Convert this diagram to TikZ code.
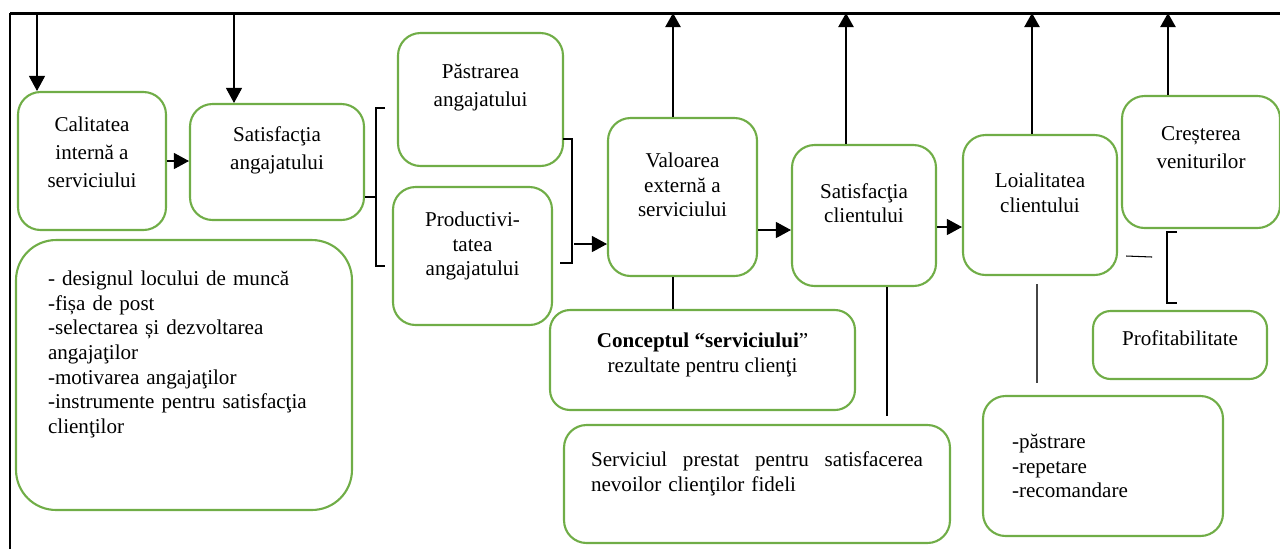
\documentclass[tikz,border=0pt]{standalone}
\usepackage{fontspec}
\setmainfont{Liberation Serif}
\usepackage{tikz}
\usetikzlibrary{arrows.meta, positioning, calc}
\definecolor{boxgreen}{RGB}{112, 173, 71}
\definecolor{linegray}{RGB}{70, 70, 70}

\tikzset{
    box/.style={draw=boxgreen, line width=1.2pt, rounded corners=0.45cm, align=center,
        inner sep=2pt, font=\fontsize{12}{14}\selectfont},
    tall/.style={font=\fontsize{12}{16}\selectfont},
    arr/.style={-{Triangle[length=0.3cm, width=0.32cm]}, line width=0.6pt},
    uparr/.style={-{Triangle[length=0.28cm, width=0.3cm]}, line width=1.3pt},
}

\begin{document}
\begin{tikzpicture}[x=0.02cm, y=-0.02cm]
    \useasboundingbox (0,0) rectangle (1280,549);

    % frame
    \coordinate (tl) at (10,13);
    \coordinate (tr) at (1280,13);
    \coordinate (bl) at (10,549);
    \draw[line width=1.2pt] (bl) -- (tl);
    \draw[line width=1.7pt] (tl) -- (tr);

    % boxes
    \node[box, tall, minimum width=2.96cm, minimum height=2.76cm] (cal) at (92,161)
        {Calitatea\\internă a\\serviciului\\[-6pt]~};
    \node[box, tall, minimum width=3.48cm, minimum height=2.32cm] (satang) at (277,162)
        {Satisfacţia\\angajatului\\~};
    \node[box, tall, minimum width=3.30cm, minimum height=2.66cm] (pastr) at (480.5,99.5)
        {Păstrarea\\angajatului\\~};
    \node[box, minimum width=3.18cm, minimum height=2.76cm] (prod) at (472.5,256)
        {Productivi-\\tatea\\angajatului\\~};
    \node[box, minimum width=2.98cm, minimum height=3.16cm] (valext) at (682.5,197)
        {Valoarea\\externă a\\serviciului\\~};
    \node[box, minimum width=2.88cm, minimum height=2.82cm] (satcl) at (864,215.5)
        {Satisfacţia\\clientului\\~};
    \node[box, minimum width=3.08cm, minimum height=2.80cm] (loial) at (1040,205)
        {Loialitatea\\clientului\\~};
    \node[box, tall, minimum width=3.16cm, minimum height=2.64cm] (cresc) at (1201,162)
        {Creșterea\\veniturilor\\~};

    \node[box, rounded corners=0.8cm, minimum width=6.72cm, minimum height=5.40cm,
        text width=5.44cm, align=left] (lista) at (184,375)
        {- designul locului de muncă\\-fișa de post\\-selectarea și dezvoltarea\\angajaţilor\\-motivarea angajaţilor\\-instrumente pentru satisfacţia\\clienţilor\\[12pt]~};
    \node[box, rounded corners=0.4cm, minimum width=6.10cm, minimum height=2.00cm] (concept) at (702.5,360)
        {\textbf{Conceptul “serviciului}”\\rezultate pentru clienţi\\[-5.5pt]~};
    \node[box, minimum width=7.72cm, minimum height=2.36cm, text width=6.64cm, align=left] (servic) at (757,484)
        {\hbox to 6.64cm{Serviciul\hfill prestat\hfill pentru\hfill satisfacerea}\\nevoilor clienţilor fideli\\~};
    \node[box, rounded corners=0.35cm, minimum width=3.48cm, minimum height=1.36cm] (profit) at (1180,345)
        {Profitabilitate\\[-6pt]~};
    \node[box, minimum width=4.80cm, minimum height=2.80cm, text width=3.64cm, align=left] (fidel) at (1103,466)
        {-păstrare\\-repetare\\-recomandare};

    % arrows from the top line
    \coordinate (in1) at (37,13);
    \coordinate (in2) at (234,13);
    \draw[arr] (in1) -- (in1 |- cal.north);
    \draw[arr] (in2) -- (in2 |- satang.north);
    \draw[arr] (cal.east) -- (cal.east -| satang.west);

    % brackets round the two boxes
    \coordinate (brl) at (376,197);
    \draw[line width=0.6pt] (satang.east |- brl) -- (brl);
    \draw[line width=0.6pt] (385,108) -| (376,266) -- (385,266);
    \draw[line width=0.6pt] (563,139) -| (572,263) -- (560,263);
    \coordinate (brr) at (574,244);
    \draw[arr] (brr) -- (brr -| valext.west);

    % chain to the right
    \coordinate (h1) at ($(valext.east)+(0,33)$);
    \draw[arr] (h1) -- (h1 -| satcl.west);
    \coordinate (h2) at ($(satcl.east)+(0,11.5)$);
    \draw[arr] (h2) -- (h2 -| loial.west);

    % arrows up to the top line
    \coordinate (u1) at ($(valext.north)+(-9.5,0)$);
    \coordinate (u2) at ($(satcl.north)+(-18,0)$);
    \coordinate (u3) at ($(loial.north)+(-8,0)$);
    \coordinate (u4) at ($(cresc.north)+(-33,0)$);
    \foreach \u in {u1,u2,u3,u4}
        \draw[uparr] (\u) -- (\u |- tl);

    % loose lines
    \draw[line width=0.6pt] ($(loial.east)+(8,51)$) -- ++(26,1);
    \draw[line width=1.5pt] (1177,232) -| (1167,303) -- (1177,303);

    \coordinate (d1) at ($(valext.south)+(-9.5,0)$);
    \draw[line width=0.6pt] (d1) -- (d1 |- concept.north);
    \coordinate (d2) at ($(satcl.south)+(23,0)$);
    \draw[line width=0.7pt] (d2) -- ($(d2 |- servic.north)+(0,-8)$);
    \coordinate (d3) at ($(loial.south)+(-3,8)$);
    \draw[linegray, line width=0.7pt] (d3) -- ($(d3 |- fidel.north)+(0,-12)$);
\end{tikzpicture}
\end{document}
